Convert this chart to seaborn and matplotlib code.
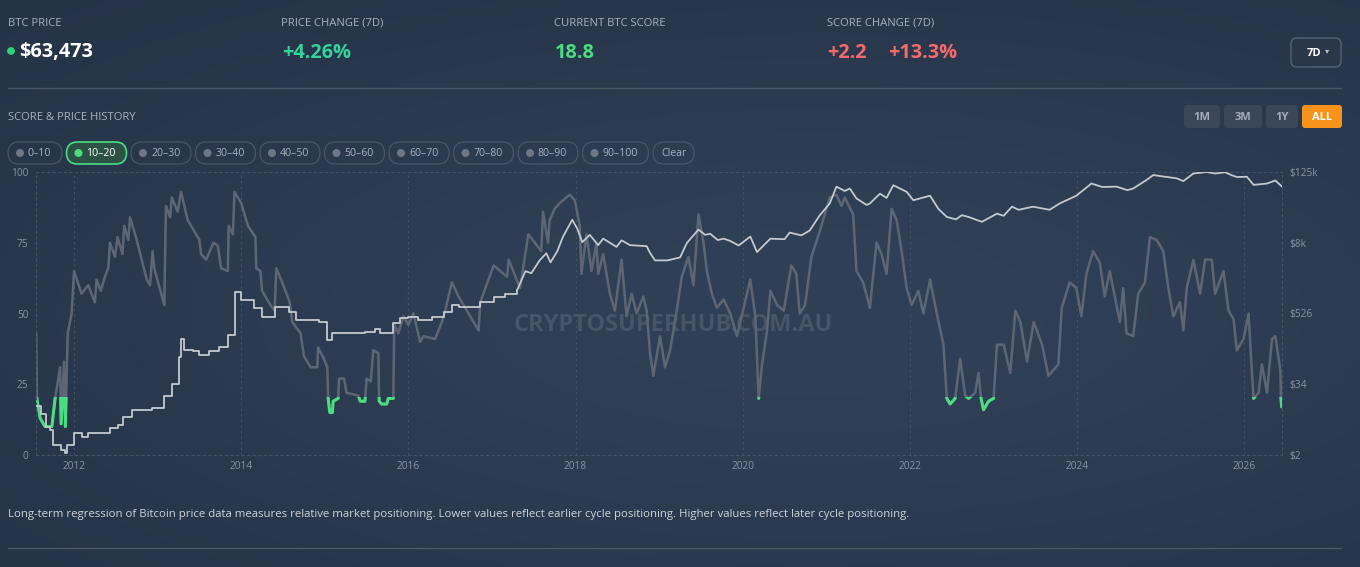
import numpy as np
import pandas as pd
import matplotlib
matplotlib.use("Agg")
import matplotlib.pyplot as plt
from matplotlib.colors import to_rgb
from matplotlib.patches import FancyBboxPatch, Rectangle, Circle
import seaborn as sns

# ---- header figures ----
btc_price = "$63,473"
price_change = "+4.26%"
current_score = "18.8"
score_change_abs = "+2.2"
score_change_pct = "+13.3%"
range_buttons = ["1M", "3M", "1Y", "ALL"]
band_labels = ["0–10", "10–20", "20–30", "30–40", "40–50",
               "50–60", "60–70", "70–80", "80–90", "90–100"]
active_band = (10, 20)
note = ("Long-term regression of Bitcoin price data measures relative market positioning. "
        "Lower values reflect earlier cycle positioning. Higher values reflect later cycle positioning.")

# ---- score history ----
score_years = [
    2011.548, 2011.556, 2011.595, 2011.655, 2011.735, 2011.774, 2011.834, 2011.846, 2011.881, 2011.897,
    2011.925, 2011.972, 2012.00, 2012.09, 2012.17, 2012.25, 2012.27, 2012.32, 2012.37, 2012.41,
    2012.43, 2012.49, 2012.52, 2012.58, 2012.60, 2012.65, 2012.67, 2012.75, 2012.81, 2012.87,
    2012.91, 2012.94, 2012.96, 2013.08, 2013.10, 2013.15, 2013.17, 2013.24, 2013.28, 2013.36,
    2013.42, 2013.50, 2013.52, 2013.58, 2013.67, 2013.72, 2013.76, 2013.84, 2013.85, 2013.90,
    2013.92, 2014.00, 2014.08, 2014.17, 2014.18, 2014.23, 2014.25, 2014.35, 2014.40, 2014.42,
    2014.49, 2014.58, 2014.61, 2014.71, 2014.75, 2014.83, 2014.91, 2014.92, 2014.99, 2015.03,
    2015.04, 2015.06, 2015.09, 2015.10, 2015.16, 2015.17, 2015.23, 2015.26, 2015.40, 2015.425,
    2015.48, 2015.50, 2015.55, 2015.58, 2015.64, 2015.65, 2015.68, 2015.74, 2015.76, 2015.82,
    2015.83, 2015.88, 2015.94, 2016.00, 2016.06, 2016.14, 2016.18, 2016.32, 2016.40, 2016.44,
    2016.52, 2016.60, 2016.84, 2016.86, 2017.02, 2017.18, 2017.20, 2017.335, 2017.435, 2017.59,
    2017.61, 2017.67, 2017.69, 2017.75, 2017.81, 2017.93, 2017.99, 2018.05, 2018.07, 2018.13,
    2018.19, 2018.25, 2018.27, 2018.33, 2018.41, 2018.47, 2018.55, 2018.61, 2018.67, 2018.73,
    2018.81, 2018.85, 2018.89, 2018.93, 2019.01, 2019.07, 2019.13, 2019.21, 2019.27, 2019.35,
    2019.41, 2019.47, 2019.53, 2019.57, 2019.63, 2019.69, 2019.77, 2019.85, 2019.93, 2020.09,
    2020.15, 2020.19, 2020.23, 2020.29, 2020.33, 2020.41, 2020.49, 2020.58, 2020.64, 2020.68,
    2020.745, 2020.82, 2020.92, 2020.98, 2021.04, 2021.12, 2021.18, 2021.22, 2021.32, 2021.36,
    2021.44, 2021.52, 2021.60, 2021.66, 2021.72, 2021.78, 2021.84, 2021.90, 2021.96, 2022.02,
    2022.10, 2022.16, 2022.24, 2022.32, 2022.40, 2022.44, 2022.48, 2022.54, 2022.60, 2022.66,
    2022.70, 2022.78, 2022.82, 2022.85, 2022.88, 2022.94, 2023.00, 2023.04, 2023.12, 2023.20,
    2023.26, 2023.32, 2023.40, 2023.48, 2023.58, 2023.655, 2023.775, 2023.815, 2023.91, 2023.99,
    2024.05, 2024.11, 2024.19, 2024.27, 2024.33, 2024.39, 2024.51, 2024.55, 2024.59, 2024.67,
    2024.73, 2024.81, 2024.87, 2024.95, 2025.03, 2025.09, 2025.15, 2025.23, 2025.27, 2025.31,
    2025.39, 2025.47, 2025.53, 2025.61, 2025.65, 2025.75, 2025.81, 2025.87, 2025.91, 2025.99,
    2026.05, 2026.09, 2026.11, 2026.17, 2026.21, 2026.27, 2026.33, 2026.37, 2026.43, 2026.437,
    2026.445,
]
score_vals = [
    43, 20, 13, 10, 10, 20, 31, 11, 33, 10,
    43, 50, 65, 57, 60, 54, 62, 58, 63, 66,
    75, 70, 77, 71, 81, 76, 84, 76, 69, 62,
    60, 72, 66, 53, 88, 84, 91, 86, 93, 83,
    80, 76, 71, 69, 75, 74, 66, 65, 81, 78,
    93, 89, 81, 77, 66, 65, 58, 53, 51, 66,
    61, 54, 47, 43, 35, 31, 31, 38, 34, 31,
    20, 15, 15, 19, 20, 27, 27, 22, 21, 19,
    19, 27, 26, 37, 36, 19, 18, 18, 20, 20,
    46, 43, 49, 46, 50, 40, 42, 41, 47, 51,
    61, 56, 44, 54, 67, 63, 69, 59, 78, 72,
    86, 75, 83, 87, 89, 92, 90, 81, 64, 78,
    65, 75, 64, 71, 57, 51, 69, 49, 57, 50,
    56, 51, 36, 28, 42, 31, 37, 51, 63, 70,
    60, 85, 75, 65, 57, 52, 55, 50, 42, 62,
    49, 20, 32, 44, 58, 53, 51, 67, 64, 50,
    53, 70, 79, 85, 91, 92, 88, 91, 85, 65,
    61, 52, 75, 71, 64, 87, 83, 72, 59, 53,
    58, 50, 62, 50, 39, 20, 18, 20, 34, 21,
    20, 22, 29, 20, 16, 19, 20, 39, 39, 29,
    51, 47, 33, 47, 39, 28, 32, 52, 61, 59,
    49, 64, 72, 68, 56, 65, 47, 59, 43, 42,
    57, 61, 77, 76, 72, 59, 49, 54, 44, 59,
    69, 57, 69, 69, 57, 65, 51, 48, 37, 41,
    50, 29, 20, 22, 32, 22, 41, 42, 30, 20,
    17,
]

# ---- BTC price history, USD ----
price_years = [
    2011.55, 2011.60, 2011.67, 2011.71, 2011.75, 2011.85, 2011.89, 2011.92, 2012.00, 2012.09,
    2012.17, 2012.43, 2012.53, 2012.59, 2012.69, 2012.93, 2013.08, 2013.17, 2013.26, 2013.28,
    2013.32, 2013.42, 2013.50, 2013.62, 2013.74, 2013.84, 2013.92, 2014.00, 2014.15, 2014.25,
    2014.41, 2014.57, 2014.65, 2014.93, 2015.03, 2015.09, 2015.40, 2015.48, 2015.60, 2015.66,
    2015.82, 2015.90, 2016.00, 2016.12, 2016.28, 2016.42, 2016.52, 2016.60, 2016.86, 2017.02,
    2017.16, 2017.30, 2017.40, 2017.47, 2017.57, 2017.65, 2017.70, 2017.78, 2017.85, 2017.96,
    2018.02, 2018.08, 2018.17, 2018.27, 2018.33, 2018.49, 2018.55, 2018.65, 2018.85, 2018.89,
    2018.95, 2019.10, 2019.25, 2019.33, 2019.47, 2019.55, 2019.61, 2019.70, 2019.77, 2019.85,
    2019.95, 2020.09, 2020.17, 2020.33, 2020.50, 2020.56, 2020.70, 2020.80, 2020.92, 2021.04,
    2021.12, 2021.22, 2021.28, 2021.36, 2021.48, 2021.52, 2021.64, 2021.72, 2021.80, 2021.96,
    2022.04, 2022.24, 2022.34, 2022.44, 2022.55, 2022.62, 2022.70, 2022.86, 2023.04, 2023.12,
    2023.22, 2023.30, 2023.47, 2023.67, 2023.79, 2023.99, 2024.17, 2024.30, 2024.47, 2024.60,
    2024.67, 2024.83, 2024.91, 2025.03, 2025.19, 2025.27, 2025.39, 2025.55, 2025.65, 2025.77,
    2025.85, 2025.91, 2026.03, 2026.11, 2026.27, 2026.37, 2026.445,
]
price_vals = [
    15, 11, 6.5, 5.8, 3.2, 2.7, 2.35, 3.2, 5.1, 4.4,
    5.1, 6.2, 7.0, 9.7, 12.5, 13.5, 22, 35, 98, 200,
    130, 125, 105, 125, 144, 225, 1210, 900, 640, 463,
    684, 561, 407, 381, 187, 243, 243, 259, 294, 243,
    360, 435, 463, 407, 463, 561, 725, 684, 830, 1000,
    1100, 1290, 2700, 2500, 4100, 5400, 3800, 5800, 10300, 19700,
    14000, 8300, 11000, 7400, 9500, 6900, 8900, 7400, 7100, 5500,
    4100, 4100, 4600, 8000, 13500, 11000, 11500, 9000, 9500, 8700,
    7300, 10300, 5650, 9500, 9300, 12000, 10800, 13000, 23400, 37000,
    71000, 60000, 66000, 45000, 35000, 37000, 54000, 46000, 75000, 58000,
    42000, 50000, 30000, 22000, 20000, 23500, 22000, 18200, 25000, 23000,
    32700, 29000, 32700, 29000, 37000, 50000, 80000, 70000, 71000, 62000,
    66000, 92000, 111000, 105000, 98000, 88000, 118000, 125000, 118000, 124000,
    110000, 103000, 104000, 76000, 80000, 90000, 72000,
]

year_ticks = [2012, 2014, 2016, 2018, 2020, 2022, 2024, 2026]
score_ticks = [0, 25, 50, 75, 100]
price_lo, price_hi = 2.213, 125000
weekly_until = 2017.3   # older price data is weekly -> drawn as steps

# ---- style ----
W, H = 1360, 567
GREEN = '#4ade80'
TEAL = '#34d399'
RED = '#f26a6a'
LABEL = '#a9b2be'
TICK = '#8a94a2'
GRID = '#445266'

sns.set_theme(style="white")
plt.rcParams['font.family'] = ['Open Sans', 'DejaVu Sans']

fig = plt.figure(figsize=(W / 100, H / 100), dpi=100)

# full-figure layer in pixel units for the dashboard chrome
ui = fig.add_axes([0, 0, 1, 1])
ui.set_zorder(-1)
gx, gy = np.meshgrid(np.linspace(0, 1, 340), np.linspace(0, 1, 142))
glow = np.exp(-((gx - 0.6) ** 2 / 0.45 + (gy - 0.55) ** 2 / 0.35))
dark, light = np.array(to_rgb('#233044')), np.array(to_rgb('#304056'))
ui.imshow(dark + (light - dark) * glow[..., None], extent=(0, W, H, 0),
          aspect='auto', interpolation='bicubic')
ui.set_xlim(0, W)
ui.set_ylim(H, 0)
ui.axis('off')


def txt(x, y, s, size=8.1, color=LABEL, weight='normal', ha='left'):
    ui.text(x, y, s, fontsize=size, color=color, fontweight=weight, ha=ha, va='center')


def box(x0, y0, w, h, r, fc, ec='none', lw=1.0):
    ui.add_patch(FancyBboxPatch((x0, y0), w, h, boxstyle=f"round,pad=0,rounding_size={r}",
                                fc=fc, ec=ec, lw=lw))


# stat cards
txt(8, 23, "BTC PRICE")
ui.add_patch(Circle((11, 51), 3.2, color='#2fd27a'))
txt(19, 52, btc_price, size=14.3, color='white', weight='bold')
txt(281, 23, "PRICE CHANGE (7D)")
txt(282, 53, price_change, size=14.3, color=TEAL, weight='bold')
txt(554, 23, "CURRENT BTC SCORE")
txt(555, 53, current_score, size=14.3, color=GREEN, weight='bold')
txt(827, 23, "SCORE CHANGE (7D)")
txt(827, 53, score_change_abs, size=14.3, color=RED, weight='bold')
txt(888, 53, score_change_pct, size=14.3, color=RED, weight='bold')

box(1291, 38, 50, 29, 6, '#2a3749', '#566275', 1.0)
txt(1307, 53, "7D", size=8, color='white', weight='bold')
txt(1325, 52, "▾", size=6, color='#b8c0ca')

ui.plot([8, 1341], [88, 88], color='#4b5767', lw=1)
ui.plot([8, 1341], [548, 548], color='#4b5767', lw=1)

txt(8, 117, "SCORE & PRICE HISTORY")

# range buttons
btn_w = [36, 38, 32, 40]
bx = 1342 - sum(btn_w) - 4 * (len(btn_w) - 1)
for lab, w in zip(range_buttons, btn_w):
    on = lab == "ALL"
    box(bx, 105, w, 23, 3, '#f7931a' if on else '#3a4759')
    txt(bx + w / 2, 117, lab, size=8, color='white' if on else '#a3acb8', weight='bold', ha='center')
    bx += w + 4

# band filter pills
px = 8
for lab in band_labels + ["Clear"]:
    dot = lab != "Clear"
    w = (30 if dot else 11) + 6 * len(lab)
    on = lab == f"{active_band[0]}–{active_band[1]}"
    box(px, 142, w, 22, 11, '#2c5145' if on else 'none', GREEN if on else '#4a5668', 1.2 if on else 0.9)
    if dot:
        ui.add_patch(Circle((px + 12, 153), 3.3, color=GREEN if on else '#6f7786'))
        txt(px + 20, 153, lab, size=7.6, color='white' if on else LABEL)
    else:
        txt(px + w / 2, 153, lab, size=7.6, color=LABEL, ha='center')
    px += w + 4.5

ui.text(673, 325, "CRYPTOSUPERHUB.COM.AU", fontsize=17, fontweight='bold',
        color='#485468', ha='center', va='center')

txt(8, 515, note, size=8.2, color='#cfd4db')

# ---- chart ----
x0 = 2012 - 38 / 83.6
x1 = 2012 + 1208 / 83.6
ax = fig.add_axes([36 / W, 1 - 455 / H, 1246 / W, 283 / H])
ax.patch.set_alpha(0)

score = pd.DataFrame({'year': score_years, 'score': score_vals})
sns.lineplot(data=score, x='year', y='score', ax=ax, color='#5e6675', lw=1.8,
             estimator=None, sort=False)
sns.lineplot(data=score, x='year', y='score', ax=ax, color=GREEN, lw=2.2,
             estimator=None, sort=False)
# highlight only the part of the score inside the selected band
band = Rectangle((x0, active_band[0] - 0.6), x1 - x0, active_band[1] - active_band[0] + 1.2,
                 transform=ax.transData)
ax.lines[-1].set_clip_path(band)

ax.set_xlim(x0, x1)
ax.set_ylim(0, 100)
ax.set_xticks(year_ticks)
ax.set_xticklabels([str(y) for y in year_ticks])
ax.set_yticks(score_ticks)
ax.set_xlabel('')
ax.set_ylabel('')
ax.grid(axis='x', color=GRID, linestyle=(0, (2, 3)), lw=0.8)
ax.grid(axis='y', visible=False)
for s in ax.spines.values():
    s.set_visible(True)
    s.set_color(GRID)
    s.set_linestyle((0, (2, 3)))
    s.set_linewidth(0.8)
ax.tick_params(axis='both', length=0, labelsize=7.3, labelcolor=TICK)
ax.tick_params(axis='y', pad=5.5)
ax.tick_params(axis='x', pad=4.0)

ax2 = ax.twinx()
ax2.set_yscale('log')
price = pd.DataFrame({'year': price_years, 'price': price_vals})
weekly = price[price['year'] <= weekly_until]
daily = price[price['year'] >= weekly['year'].max()]
sns.lineplot(data=weekly, x='year', y='price', ax=ax2, color='#c4c9d1', lw=1.3,
             estimator=None, sort=False, drawstyle='steps-post')
sns.lineplot(data=daily, x='year', y='price', ax=ax2, color='#c4c9d1', lw=1.3,
             estimator=None, sort=False)
ax2.set_ylim(price_lo, price_hi)
ax2.set_xlim(x0, x1)
pticks = np.geomspace(price_lo, price_hi, 5)
ax2.set_yticks(pticks)
ax2.set_yticklabels([f"${v / 1000:.0f}k" if v >= 1000 else f"${v:.0f}" for v in pticks])
ax2.minorticks_off()
ax2.set_ylabel('')
ax2.grid(False)
for s in ax2.spines.values():
    s.set_visible(False)
ax2.tick_params(axis='y', length=0, labelsize=7.3, labelcolor=TICK, pad=5.5)

fig.savefig("out.png", dpi=100)
